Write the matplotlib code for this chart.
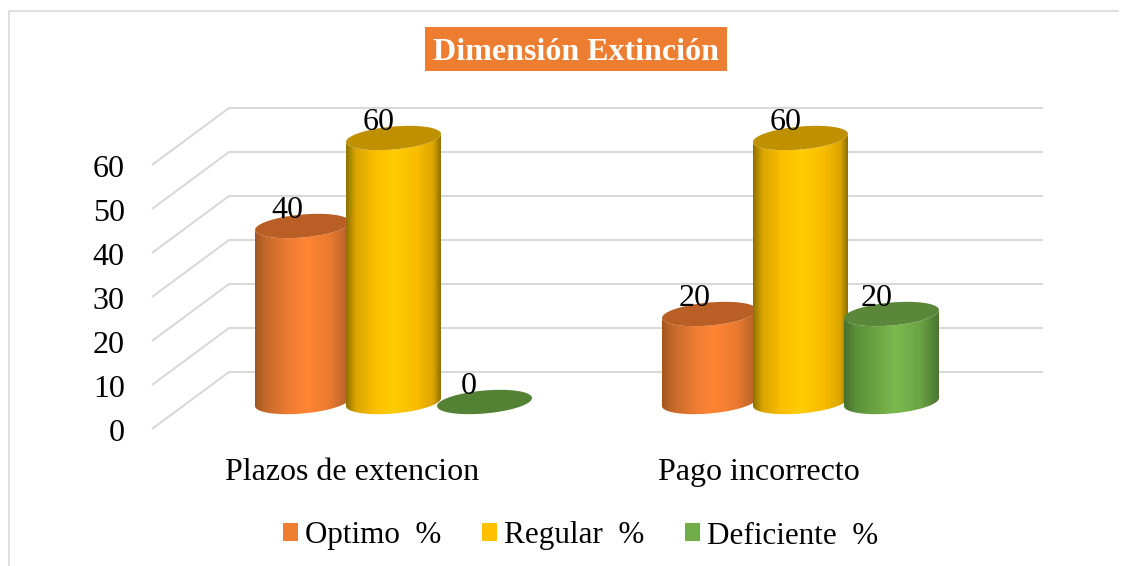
import matplotlib
matplotlib.use("Agg")
import matplotlib.pyplot as plt
import numpy as np
from matplotlib.colors import LinearSegmentedColormap
from matplotlib.lines import Line2D
from matplotlib.patches import Patch, PathPatch, Polygon
from matplotlib.path import Path
from matplotlib.transforms import ScaledTranslation

categorias = ["Plazos de extencion", "Pago incorrecto"]
series = ["Optimo  %", "Regular  %", "Deficiente  %"]
optimo = [40, 20]
regular = [60, 60]
deficiente = [0, 20]
valores_y = [0, 10, 20, 30, 40, 50, 60]

colores = ["#ED7D31", "#FFC000", "#70AD47"]
degradados = [[(0, "#A0561F"), (0.12, "#C56A2B"), (0.35, "#EE7C33"), (0.55, "#FF8533"), (0.8, "#E8792F"), (1, "#B0602A")],
              [(0, "#8F7000"), (0.1, "#D9A400"), (0.3, "#FBBF00"), (0.5, "#FFCC00"), (0.75, "#F8BC00"), (0.92, "#DCA600"), (1, "#8F7000")],
              [(0, "#47702D"), (0.12, "#5A8F39"), (0.35, "#6CA643"), (0.55, "#7BBA4F"), (0.8, "#6BA544"), (1, "#4A7530")]]
tapas = ["#B95F26", "#BF9000", "#5A873A"]

W, H = 1132, 566
plt.rcParams["font.family"] = ["Liberation Serif"]

fig = plt.figure(figsize=(W / 100, H / 100), dpi=100)
# zona del grafico en pixeles: x 152-1043, y 107-429
ax = fig.add_axes([152 / W, 1 - 429 / H, (1043 - 152) / W, (429 - 107) / H])

px_x = 407.0  # pixeles por categoria
px_y = 4.4    # pixeles por unidad
ax.set_xlim((152 - 352) / px_x, (1043 - 352) / px_x)
ax.set_ylim(0, (429 - 107) / px_y)

# fondo en perspectiva
fondo_x = 77 / px_x
fondo_y = 57 / px_y
xmin, xmax = ax.get_xlim()
for v in valores_y:
    ax.plot([xmin, xmin + fondo_x, xmax], [v, v + fondo_y, v + fondo_y],
            color="#D9D9D9", lw=1.5, clip_on=False, zorder=1, solid_capstyle="butt")

paso = 91 / px_x
semi = 47.5 / px_x
prof_x = 41.5 / px_x
prof_y = 27 / px_y
eje_b = 11.5 / px_y
eje_s = 4 / px_y


def ellipse(cx, cy, t):
    return cx + semi * np.cos(t), cy + eje_b * np.sin(t) + eje_s * np.cos(t)


def cilindro(cx, valor, cmap, tapa, z):
    cy = prof_y
    t = np.linspace(0, 2 * np.pi, 100)
    if valor > 0:
        xb, yb = ellipse(cx, cy, np.linspace(np.pi, 2 * np.pi, 60))
        xt, yt = ellipse(cx, cy + valor, np.linspace(0, -np.pi, 60))
        pts = np.column_stack([np.r_[xb, xt], np.r_[yb, yt]])
        borde = Polygon(pts, closed=True, fc="none", ec="none", transform=ax.transData)
        ax.add_patch(borde)
        img = ax.imshow(np.linspace(0, 1, 256).reshape(1, -1), cmap=cmap, aspect="auto",
                        extent=[cx - semi, cx + semi, 0, cy + valor + 5], zorder=z,
                        interpolation="bilinear")
        img.set_clip_path(borde)
    xe, ye = ellipse(cx, cy + valor, t)
    ax.add_patch(PathPatch(Path(np.column_stack([xe, ye])), fc=tapa, ec="none", zorder=z + 0.1))


for i in range(len(categorias)):
    grupo = [optimo[i], regular[i], deficiente[i]]
    for j, valor in enumerate(grupo):
        cx = i + (j - 1) * paso + prof_x
        cmap = LinearSegmentedColormap.from_list("c%d" % j, degradados[j])
        tapa = tapas[j] if valor > 0 else "#548235"
        cilindro(cx, valor, cmap, tapa, 3 + j)
        ax.annotate(str(valor), (cx, prof_y + valor), xytext=(-11, 11), textcoords="offset points",
                    ha="center", va="center", fontsize=23, color="black", zorder=10)

ax.set_xlim((152 - 352) / px_x, (1043 - 352) / px_x)
ax.set_ylim(0, (429 - 107) / px_y)

for s in ax.spines.values():
    s.set_visible(False)
ax.patch.set_alpha(0)
ax.set_yticks(valores_y)
ax.set_yticklabels([str(v) for v in valores_y], fontsize=23)
ax.set_xticks(range(len(categorias)))
ax.set_xticklabels(categorias, fontsize=23)
ax.tick_params(axis="both", length=0)
ax.tick_params(axis="y", pad=19.7)
ax.tick_params(axis="x", pad=21)
baja = ScaledTranslation(0, -1.3 / 100, fig.dpi_scale_trans)
for lab in ax.get_yticklabels():
    lab.set_transform(lab.get_transform() + baja)

# titulo con caja naranja
fig.patches.append(plt.Rectangle((425 / W, 1 - 71 / H), 302 / W, 44 / H, transform=fig.transFigure,
                                 fc="#ED7D31", ec="none"))
fig.text(576 / W, 1 - 53 / H, "Dimensión Extinción", ha="center", va="center", fontsize=23,
         fontweight="bold", color="white")

# marco
fig.add_artist(Line2D([8.5 / W, 8.5 / W, 1118 / W], [0, 1 - 10.5 / H, 1 - 10.5 / H],
                      color="#D9D9D9", lw=1.2))

handles = [Patch(fc=c, ec="none") for c in colores]
fig.legend(handles, series, loc="center", bbox_to_anchor=(580.5 / W, 1 - 536 / H), ncol=3, frameon=False,
           fontsize=22.4, handlelength=0.48, handleheight=0.51, handletextpad=0.22, columnspacing=1.32)

fig.savefig("out.png", dpi=100)
